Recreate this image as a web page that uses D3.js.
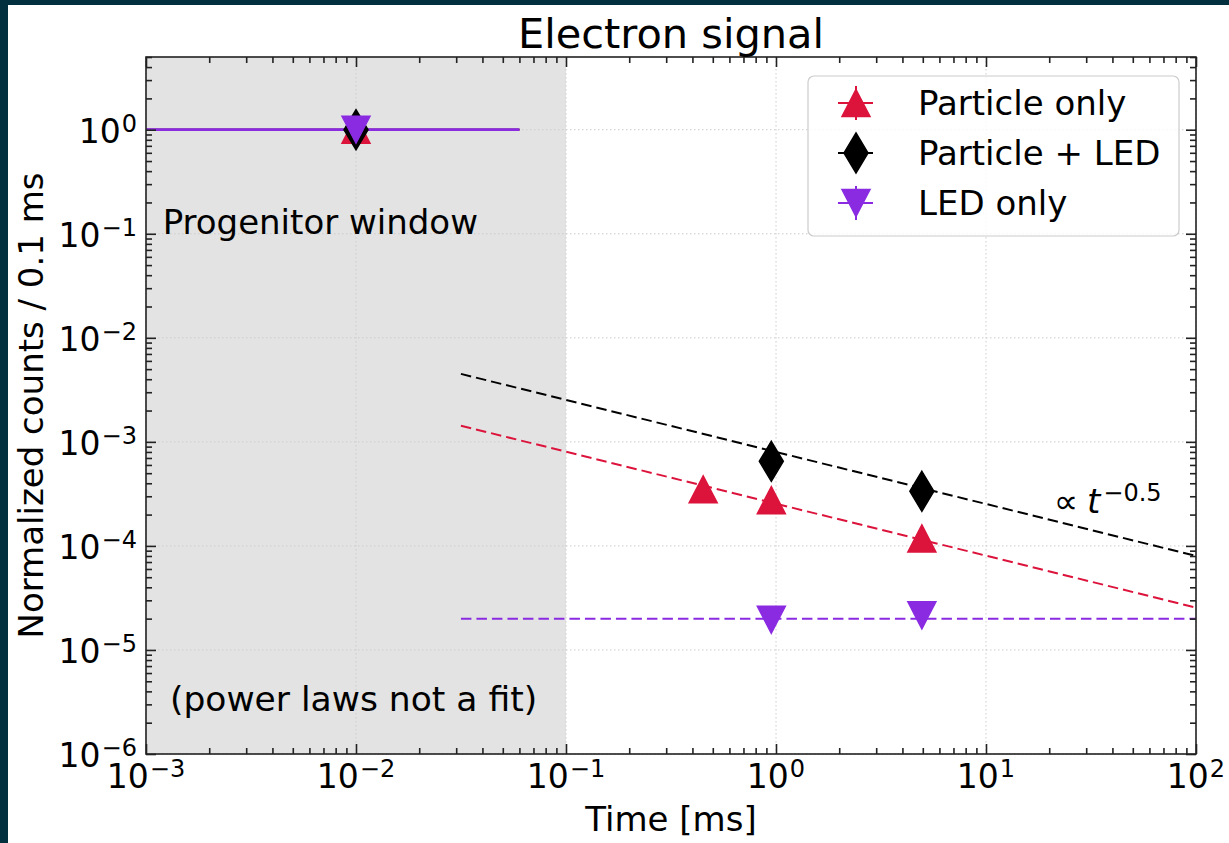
<!DOCTYPE html>
<html lang="en">
<head>
<meta charset="UTF-8">
<title>Electron signal</title>
<script src="https://cdn.jsdelivr.net/npm/d3@7"></script>
<style>
  body { margin: 0; background: #fff; }
  svg { display: block; font-family: "DejaVu Sans", sans-serif; }
</style>
</head>
<body>
<script>
// values
const seriesNames = ["Particle only", "Particle + LED", "LED only"];
const seriesColors = ["#dc143c", "#000000", "#8a2be2"];
const seriesShapes = ["up", "diamond", "down"];

// progenitor window point (t = 0.01 ms, x error 0.05 ms)
const progT = [0.01, 0.01, 0.01];
const progXerr = [0.05, 0.05, 0.05];
const progCounts = [1.0, 1.0, 1.0];

// points after the window
const particleT = [0.45, 0.95, 4.95];
const particleCounts = [3.5e-4, 2.75e-4, 1.18e-4];
const bothT = [0.95, 4.95];
const bothCounts = [6.5e-4, 3.35e-4];
const ledT = [0.95, 4.95];
const ledCounts = [1.95e-5, 2.15e-5];

// guide lines, end points only
const guideT = [0.0316, 100];
const guideParticle = [1.43e-3, 2.55e-5];
const guideBoth = [4.5e-3, 8.0e-5];
const guideLed = [2.0e-5, 2.0e-5];

const windowEdges = [1e-3, 1e-1];

const W = 1229, H = 843;
const mL = 146, mR = 1196, mT = 57, mB = 754;

const svg = d3.select("body").append("svg")
    .attr("width", W).attr("height", H);

// dark frame on the top and left edges
svg.append("rect").attr("width", W).attr("height", H).attr("fill", "#02303e");
svg.append("rect").attr("x", 8).attr("y", 5).attr("width", W - 8).attr("height", H - 5).attr("fill", "#fff");

const x = d3.scaleLog().domain([1e-3, 1e2]).range([mL, mR]);
const y = d3.scaleLog().domain([1e-6, 5]).range([mB, mT]);

const isMajor = d => Math.abs(Math.log10(d) - Math.round(Math.log10(d))) < 1e-9;
const xMajor = x.ticks().filter(isMajor), xMinor = x.ticks().filter(d => !isMajor(d));
const yMajor = y.ticks().filter(isMajor), yMinor = y.ticks().filter(d => !isMajor(d));

svg.append("defs").append("clipPath").attr("id", "plot")
  .append("rect").attr("x", mL).attr("y", mT)
  .attr("width", mR - mL).attr("height", mB - mT);

// progenitor window shading
svg.append("rect")
    .attr("x", x(windowEdges[0])).attr("y", mT)
    .attr("width", x(windowEdges[1]) - x(windowEdges[0]))
    .attr("height", mB - mT)
    .attr("fill", "#e3e3e3");

// grid
const grid = svg.append("g").attr("stroke", "#cccccc").attr("stroke-width", 1)
    .attr("stroke-dasharray", "1.5,2.5");
grid.append("g").selectAll("line").data(xMajor).join("line")
    .attr("x1", d => x(d)).attr("x2", d => x(d)).attr("y1", mT).attr("y2", mB);
grid.append("g").selectAll("line").data(yMajor).join("line")
    .attr("y1", d => y(d)).attr("y2", d => y(d)).attr("x1", mL).attr("x2", mR);

const plot = svg.append("g").attr("clip-path", "url(#plot)");

// guide lines
const line = d3.line().x(d => x(d[0])).y(d => y(d[1]));
[guideParticle, guideBoth, guideLed].forEach((g, i) => {
  plot.append("path")
      .attr("d", line(guideT.map((t, k) => [t, g[k]])))
      .attr("fill", "none")
      .attr("stroke", seriesColors[i])
      .attr("stroke-width", 2)
      .attr("stroke-dasharray", "10.5,5");
});

function markerPath(shape) {
  if (shape === "up") return "M0,-13.5L14,13.5L-14,13.5Z";
  if (shape === "down") return "M0,13.5L14,-13.5L-14,-13.5Z";
  return "M0,-20L12,0L0,20L-12,0Z";
}

// progenitor x error bars (last one drawn on top, a bit wider so it hides the others)
progT.forEach((t, i) => {
  const lo = Math.max(t - progXerr[i], x.domain()[0]);
  plot.append("line")
      .attr("x1", x(lo)).attr("x2", x(t + progXerr[i]))
      .attr("y1", y(progCounts[i])).attr("y2", y(progCounts[i]))
      .attr("stroke", seriesColors[i])
      .attr("stroke-width", i === progT.length - 1 ? 2.8 : 1.8);
});

const pointSets = [
  { t: particleT, c: particleCounts },
  { t: bothT, c: bothCounts },
  { t: ledT, c: ledCounts }
];

pointSets.forEach((s, i) => {
  const pts = [[progT[i], progCounts[i]]].concat(s.t.map((t, k) => [t, s.c[k]]));
  plot.append("g").selectAll("path").data(pts).join("path")
      .attr("transform", d => `translate(${x(d[0])},${y(d[1])})`)
      .attr("d", markerPath(seriesShapes[i]))
      .attr("fill", seriesColors[i])
      .attr("stroke", seriesColors[i])
      .attr("stroke-width", 1.5);
});

// ticks on all four sides, pointing in
function ticks(axisFn, scale, vals, size, transform) {
  svg.append("g").attr("transform", transform)
    .call(axisFn(scale).tickValues(vals).tickSize(-size).tickFormat(""))
    .call(a => a.select(".domain").remove())
    .selectAll("line").attr("stroke", "#222").attr("stroke-width", 1.6);
}
ticks(d3.axisBottom, x, xMajor, 10, `translate(0,${mB})`);
ticks(d3.axisBottom, x, xMinor, 6, `translate(0,${mB})`);
ticks(d3.axisTop, x, xMajor, 10, `translate(0,${mT})`);
ticks(d3.axisTop, x, xMinor, 6, `translate(0,${mT})`);
ticks(d3.axisLeft, y, yMajor, 10, `translate(${mL},0)`);
ticks(d3.axisLeft, y, yMinor, 6, `translate(${mL},0)`);
ticks(d3.axisRight, y, yMajor, 10, `translate(${mR},0)`);
ticks(d3.axisRight, y, yMinor, 6, `translate(${mR},0)`);

// spines
svg.append("rect")
    .attr("x", mL).attr("y", mT).attr("width", mR - mL).attr("height", mB - mT)
    .attr("fill", "none").attr("stroke", "#222").attr("stroke-width", 1.6);

// tick labels 10^n
function powLabel(sel) {
  sel.append("tspan").text("10");
  sel.append("tspan").attr("font-size", 24).attr("dx", 1).attr("dy", -11)
      .text(d => String(Math.round(Math.log10(d))).replace("-", "\u2212"));
}
svg.append("g").selectAll("text").data(xMajor).join("text")
    .attr("x", d => x(d)).attr("y", mB + 34)
    .attr("text-anchor", "middle").attr("font-size", 33).attr("fill", "#000")
    .call(powLabel);
svg.append("g").selectAll("text").data(yMajor).join("text")
    .attr("x", mL - 9).attr("y", d => y(d) + 13)
    .attr("text-anchor", "end").attr("font-size", 33).attr("fill", "#000")
    .call(powLabel);

// title and axis labels
svg.append("text").attr("x", (mL + mR) / 2).attr("y", 48)
    .attr("text-anchor", "middle").attr("font-size", 41.5).text("Electron signal");
svg.append("text").attr("x", (mL + mR) / 2).attr("y", 831)
    .attr("text-anchor", "middle").attr("font-size", 34).text("Time [ms]");
svg.append("text").attr("transform", `translate(43,${(mT + mB) / 2}) rotate(-90)`)
    .attr("text-anchor", "middle").attr("font-size", 34).text("Normalized counts / 0.1 ms");

// annotations
svg.append("text").attr("x", x(1.2e-3)).attr("y", y(1e-1))
    .attr("font-size", 34).text("Progenitor window");
svg.append("text").attr("x", x(1.3e-3)).attr("y", y(2.6e-6))
    .attr("font-size", 34.5).text("(power laws not a fit)");
const prop = svg.append("text").attr("x", x(21)).attr("y", y(2.05e-4)).attr("font-size", 34);
prop.append("tspan").text("\u221D");
prop.append("tspan").attr("dx", 9).attr("font-style", "italic").text("t");
prop.append("tspan").attr("dx", 3).attr("dy", -12).attr("font-size", 24).text("\u22120.5");

// legend
const lg = svg.append("g");
lg.append("rect").attr("x", 808).attr("y", 76).attr("width", 371).attr("height", 160)
    .attr("rx", 6).attr("fill", "#fff").attr("fill-opacity", 0.8)
    .attr("stroke", "#cccccc").attr("stroke-width", 1.2);
seriesNames.forEach((name, i) => {
  const cy = 103 + i * 50;
  const row = lg.append("g");
  row.append("line").attr("x1", 838).attr("x2", 873).attr("y1", cy).attr("y2", cy)
      .attr("stroke", seriesColors[i]).attr("stroke-width", 2);
  row.append("line").attr("x1", 856).attr("x2", 856).attr("y1", cy - 17).attr("y2", cy + 17)
      .attr("stroke", seriesColors[i]).attr("stroke-width", 2);
  row.append("path").attr("transform", `translate(856,${cy})`)
      .attr("d", markerPath(seriesShapes[i]))
      .attr("fill", seriesColors[i]).attr("stroke", seriesColors[i]).attr("stroke-width", 1.5);
  row.append("text").attr("x", 918).attr("y", cy + 12).attr("font-size", 34).text(name);
});
</script>
</body>
</html>
